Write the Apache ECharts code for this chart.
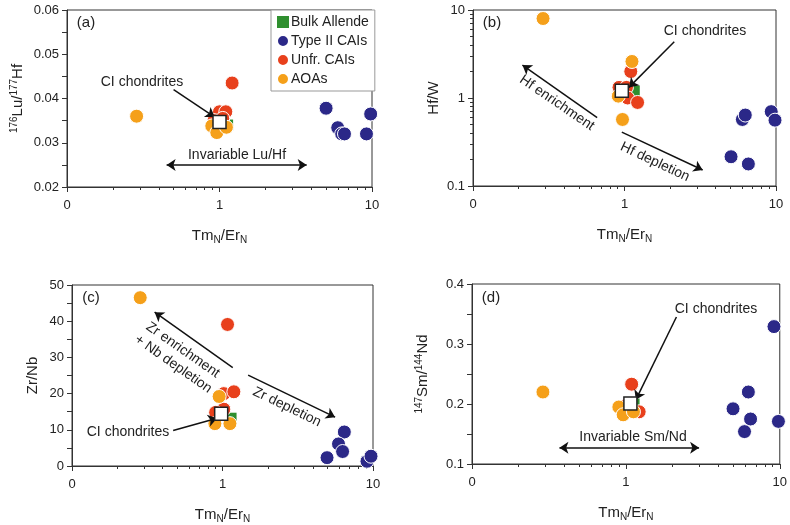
<!DOCTYPE html>
<html>
<head>
<meta charset="utf-8">
<script src="https://cdn.jsdelivr.net/npm/echarts@6/dist/echarts.min.js"></script>
<style>html,body{margin:0;padding:0;background:#fff}#main{width:790px;height:525px}</style>
</head>
<body>
<div id="main"></div>
<script>
// 数据 (x = TmN/ErN)
var bulkA = [[1.13, 0.034]];
var type2A = [[5.0, 0.0378], [5.96, 0.0334], [6.33, 0.032], [6.6, 0.032], [9.2, 0.032], [9.8, 0.0365]];
var unfrA = [[1.21, 0.0435], [1.0, 0.037], [1.1, 0.037], [0.92, 0.035], [1.05, 0.0355]];
var aoaA = [[0.286, 0.036], [0.89, 0.0338], [0.96, 0.0323], [1.11, 0.0335]];
var ciA = [[1.0, 0.0347]];

var bulkB = [[1.16, 1.2]];
var type2B = [[5.05, 0.215], [6.57, 0.178], [6.0, 0.57], [6.27, 0.64], [9.3, 0.7], [9.85, 0.56]];
var unfrB = [[1.1, 2.0], [0.92, 1.32], [1.03, 1.32], [1.05, 1.0], [1.22, 0.89]];
var aoaB = [[0.29, 8.0], [1.12, 2.6], [0.91, 1.05], [0.97, 0.57]];
var ciB = [[0.96, 1.21]];

var bulkC = [[1.14, 13.2]];
var type2C = [[6.45, 9.4], [5.9, 6.1], [6.28, 4.0], [4.95, 2.3], [9.12, 1.3], [9.7, 2.7]];
var unfrC = [[1.08, 39.1], [1.02, 20], [1.19, 20.5], [1.02, 15.7], [0.9, 14.8]];
var aoaC = [[0.284, 46.5], [0.95, 19.2], [0.89, 11.7], [1.12, 11.7]];
var ciC = [[0.98, 14.4]];

var bulkD = [[1.13, 0.2]];
var type2D = [[9.17, 0.329], [6.25, 0.22], [4.97, 0.192], [6.46, 0.175], [5.9, 0.154], [9.8, 0.171]];
var unfrD = [[1.09, 0.233], [1.0, 0.197], [1.22, 0.187]];
var aoaD = [[0.289, 0.22], [0.9, 0.195], [0.96, 0.182], [1.12, 0.187]];
var ciD = [[1.07, 0.201]];

var xTicks = {0.1: '0', 1: '1', 10: '10'};

var FONT = 'Liberation Sans, Arial, sans-serif';
var colors = {bulk: '#2f8f2f', type2: '#2b2888', unfr: '#e8401c', aoa: '#f5a01a'};

var grids = [
    {left: 67, top: 10, width: 305, height: 177},
    {left: 473, top: 10, width: 303, height: 176},
    {left: 72, top: 285, width: 301, height: 182},
    {left: 472, top: 284, width: 308, height: 180}
];
grids.forEach(function(g){ g.show = true; g.borderColor = '#333'; g.borderWidth = 1; });

var rich = {
    sup: {fontSize: 10, fontFamily: FONT, color: '#222', padding: [0, 0, 8, 0]},
    sub: {fontSize: 10, fontFamily: FONT, color: '#222', padding: [8, 0, 0, 0]},
    n: {fontSize: 15, fontFamily: FONT, color: '#222'}
};

function xAxis(i){
    return {
        type: 'log', logBase: 10, min: 0.1, max: 10, gridIndex: i,
        name: '{n|Tm}{sub|N}{n|/Er}{sub|N}', nameLocation: 'middle', nameGap: 40,
        nameTextStyle: {rich: rich},
        axisLine: {lineStyle: {color: '#333'}},
        axisTick: {show: true, inside: false, length: 5, lineStyle: {color: '#333'}},
        minorTick: {show: true, splitNumber: 9, length: 3, lineStyle: {color: '#333'}},
        splitLine: {show: false},
        axisLabel: {fontSize: 13, fontFamily: FONT, color: '#222', margin: 12,
            formatter: function(v){ return xTicks[v] !== undefined ? xTicks[v] : ''; }}
    };
}
function yAxis(i, opt){
    var a = {
        gridIndex: i, nameLocation: 'middle', nameGap: 40, nameRotate: 90,
        nameTextStyle: {rich: rich},
        axisLine: {show: true, lineStyle: {color: '#333'}},
        axisTick: {show: true, length: 5, lineStyle: {color: '#333'}},
        minorTick: {show: true, splitNumber: 2, length: 5, lineStyle: {color: '#333'}},
        splitLine: {show: false},
        axisLabel: {fontSize: 13, fontFamily: FONT, color: '#222'}
    };
    for (var k in opt) a[k] = opt[k];
    return a;
}

var arrowLine = {color: '#111', width: 1.5, type: 'solid'};
function arrows(list){
    return {
        silent: true, symbolSize: 9, label: {show: false},
        lineStyle: arrowLine,
        data: list.map(function(s){
            return [{coord: s[0], symbol: s[2] ? 'arrow' : 'none'}, {coord: s[1], symbol: 'arrow'}];
        })
    };
}

var series = [];
var sets = [
    [bulkA, type2A, unfrA, aoaA, ciA],
    [bulkB, type2B, unfrB, aoaB, ciB],
    [bulkC, type2C, unfrC, aoaC, ciC],
    [bulkD, type2D, unfrD, aoaD, ciD]
];
var marks = [
    [[[0.5, 0.042], [0.93, 0.0358]], [[0.45, 0.025], [3.73, 0.025], true]],
    [[[2.13, 4.36], [1.07, 1.32]], [[0.66, 0.6], [0.212, 2.37]], [[0.96, 0.41], [3.28, 0.152]]],
    [[[0.47, 9.8], [0.92, 13.2]], [[1.17, 27.2], [0.354, 42.5]], [[1.48, 25.1], [5.6, 13.5]]],
    [[[2.13, 0.345], [1.16, 0.207]], [[0.37, 0.127], [2.99, 0.127], true]]
];
sets.forEach(function(s, i){
    var base = {type: 'scatter', xAxisIndex: i, yAxisIndex: i, symbolSize: 14, z: 3};
    series.push(Object.assign({}, base, {name: 'Bulk Allende', symbol: 'rect', symbolSize: 11, data: s[0], itemStyle: {color: colors.bulk, opacity: 1}}));
    series.push(Object.assign({}, base, {name: 'Type II CAIs', data: s[1], itemStyle: {color: colors.type2, opacity: 1, borderColor: '#fff', borderWidth: 1}}));
    series.push(Object.assign({}, base, {name: 'Unfr. CAIs', data: s[2], itemStyle: {color: colors.unfr, opacity: 1, borderColor: '#fff', borderWidth: 1}}));
    series.push(Object.assign({}, base, {name: 'AOAs', data: s[3], itemStyle: {color: colors.aoa, opacity: 1, borderColor: '#fff', borderWidth: 1}}));
    series.push(Object.assign({}, base, {name: 'CI', symbol: 'rect', symbolSize: 13, data: s[4], z: 5,
        itemStyle: {color: '#fff', opacity: 1, borderColor: '#222', borderWidth: 1.5}, markLine: arrows(marks[i])}));
});

function txt(x, y, t, rot, extra){
    var o = {type: 'text', x: x, y: y, rotation: rot || 0, z: 10,
        style: {text: t, font: '14px ' + FONT, fill: '#222', align: 'center', verticalAlign: 'middle'}};
    if (extra) for (var k in extra) o.style[k] = extra[k];
    return o;
}

var option = {
    animation: false,
    grid: grids,
    xAxis: [xAxis(0), xAxis(1), xAxis(2), xAxis(3)],
    yAxis: [
        yAxis(0, {type: 'value', min: 0.02, max: 0.06, interval: 0.01,
            name: '{sup|176}{n|Lu/}{sup|177}{n|Hf}'}),
        yAxis(1, {type: 'log', logBase: 10, min: 0.1, max: 10, name: '{n|Hf/W}', nameGap: 32,
            minorTick: {show: true, splitNumber: 9, length: 3, lineStyle: {color: '#333'}}}),
        yAxis(2, {type: 'value', min: 0, max: 50, interval: 10, name: '{n|Zr/Nb}', nameGap: 32}),
        yAxis(3, {type: 'value', min: 0.1, max: 0.4, interval: 0.1,
            name: '{sup|147}{n|Sm/}{sup|144}{n|Nd}'})
    ],
    legend: {
        data: [{name: 'Bulk Allende', icon: 'rect'}, {name: 'Type II CAIs', icon: 'circle'},
               {name: 'Unfr. CAIs', icon: 'circle'}, {name: 'AOAs', icon: 'circle'}],
        orient: 'vertical', left: 271, top: 10, padding: [5, 6, 5, 5], itemGap: 5,
        itemWidth: 12, itemHeight: 12, borderColor: '#999', borderWidth: 1,
        backgroundColor: '#fff', selectedMode: false,
        textStyle: {fontSize: 14, fontFamily: FONT, color: '#222', padding: [0, 0, 0, -3]}
    },
    graphic: [
        txt(86, 23, '(a)', 0, {font: '15px ' + FONT}),
        txt(492, 23, '(b)', 0, {font: '15px ' + FONT}),
        txt(91, 298, '(c)', 0, {font: '15px ' + FONT}),
        txt(491, 298, '(d)', 0, {font: '15px ' + FONT}),
        txt(142, 82, 'CI chondrites'),
        txt(237, 155, 'Invariable Lu/Hf'),
        txt(705, 31, 'CI chondrites'),
        txt(557, 103, 'Hf enrichment', -0.6),
        txt(655, 162, 'Hf depletion', -0.44),
        txt(178, 357, 'Zr enrichment\n+ Nb depletion', -0.61, {lineHeight: 17}),
        txt(287, 407, 'Zr depletion', -0.45),
        txt(128, 432, 'CI chondrites'),
        txt(716, 309, 'CI chondrites'),
        txt(633, 437, 'Invariable Sm/Nd')
    ],
    series: series
};

var chart = echarts.init(document.getElementById('main'));
chart.setOption(option);
</script>
</body>
</html>
